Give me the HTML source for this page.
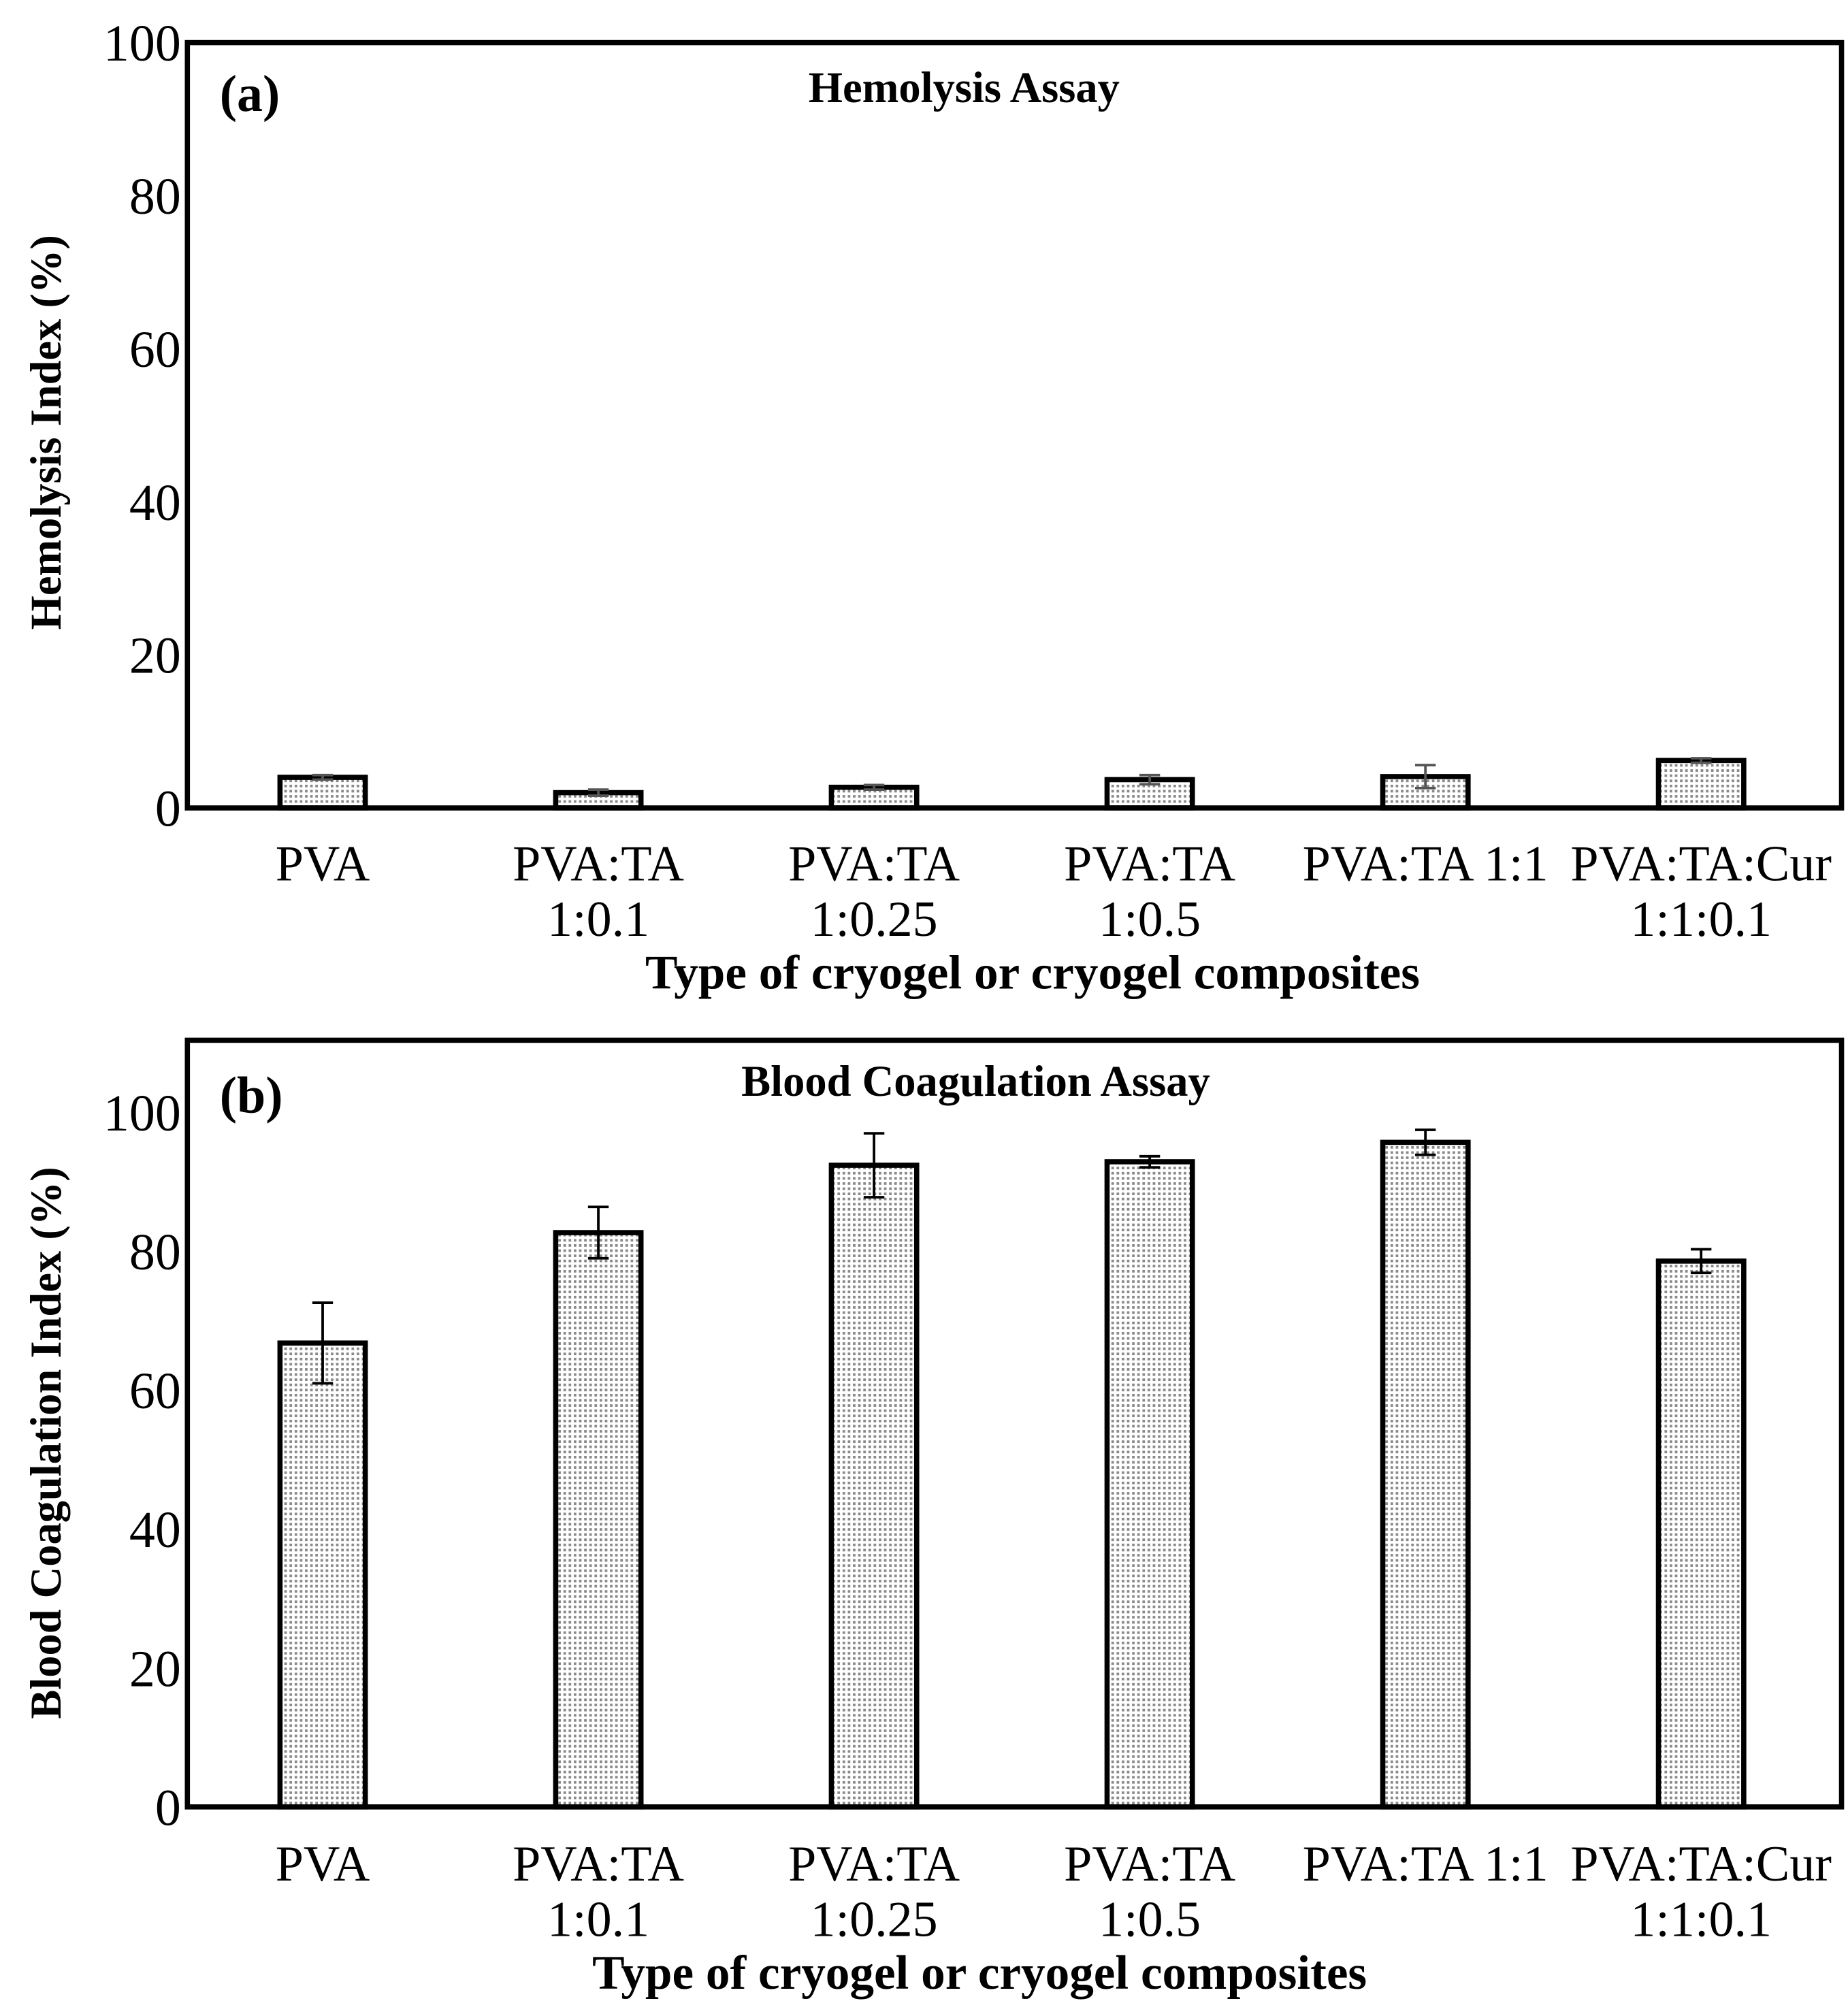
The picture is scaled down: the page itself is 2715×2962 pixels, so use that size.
<!DOCTYPE html>
<html><head><meta charset="utf-8"><style>
html,body{margin:0;padding:0;background:#fff}
svg{display:block}
text{font-family:"Liberation Serif",serif;fill:#000}
</style></head><body>
<svg id="fig" width="2715" height="2962" viewBox="0 0 1430 1562" preserveAspectRatio="none">
<defs>
<pattern id="dots" width="4" height="4" patternUnits="userSpaceOnUse">
<rect width="4" height="4" fill="#fff"/><rect width="2" height="2" fill="#8a8a8a"/>
</pattern>
</defs>
</svg>
<script>
const categories=[["PVA"],["PVA:TA","1:0.1"],["PVA:TA","1:0.25"],["PVA:TA","1:0.5"],["PVA:TA 1:1"],["PVA:TA:Cur","1:1:0.1"]];
const hemoValues=[4.0,2.0,2.7,3.7,4.1,6.2];
const hemoErrors=[0.3,0.4,0.3,0.6,1.5,0.3];
const coagValues=[66.8,82.7,92.4,92.9,95.7,78.6];
const coagErrors=[5.8,3.7,4.6,0.8,1.8,1.7];
const hemoTicks=[0,20,40,60,80,100];
const coagTicks=[0,20,40,60,80,100];

const svg=document.getElementById('fig');
const NS='http://www.w3.org/2000/svg';
function mk(tag,attrs,parent){const e=document.createElementNS(NS,tag);for(const k in attrs)e.setAttribute(k,attrs[k]);(parent||svg).appendChild(e);return e;}

function panel(cfg){
  const g=mk('g',{});
  
  
  const {left,right,top,bottom,ymax}=cfg;
  const y=v=>bottom-(v/ymax)*(bottom-top);
  const bandW=(right-left)/categories.length;
  const x=i=>left-2+bandW*(i+0.5);
  const bw=66;
  cfg.ticks.forEach(t=>{
    const tl=mk('text',{x:140,y:y(t)+14,'text-anchor':'end','font-size':40},g);
    tl.textContent=t;
    
    
  });
  cfg.values.forEach((v,i)=>{
    const b=mk('rect',{x:x(i)-bw/2,y:y(v),width:bw,height:bottom-y(v),fill:'url(#dots)',stroke:'#000','stroke-width':4},g);
    
    
    const e=cfg.errors[i];
    const eg=mk('g',{stroke:cfg.errColor,'stroke-width':2},g);
    
    
    mk('line',{x1:x(i),x2:x(i),y1:y(v+e),y2:y(v-e)},eg);
    mk('line',{x1:x(i)-8,x2:x(i)+8,y1:y(v+e),y2:y(v+e)},eg);
    mk('line',{x1:x(i)-8,x2:x(i)+8,y1:y(v-e),y2:y(v-e)},eg);
  });
  const f=mk('rect',{x:left,y:top,width:right-left,height:bottom-top,fill:'none',stroke:'#000','stroke-width':4},g);
  
  
  categories.forEach((c,i)=>{
    c.forEach((line,j)=>{
      const t=mk('text',{x:x(i),y:cfg.labelY+j*43,'text-anchor':'middle','font-size':39},g);
      t.textContent=line;
      
      
    });
  });
  const xt=mk('text',{x:cfg.xTitleX,y:cfg.xTitleY,'text-anchor':'middle','font-size':37.5,'font-weight':'bold'},g);
  xt.textContent='Type of cryogel or cryogel composites';
  
  
  const yc=cfg.yTitleC;
  const yt=mk('text',{x:47,y:yc,'text-anchor':'middle','font-size':34,'font-weight':'bold',transform:`rotate(-90 47 ${yc})`},g);
  yt.textContent=cfg.yTitle;
  
  
  const pl=mk('text',{x:170,y:cfg.panelLabelY,'font-size':40,'font-weight':'bold'},g);
  pl.textContent=cfg.panelLabel;
  
  
  const ct=mk('text',{x:cfg.chartTitleX,y:cfg.chartTitleY,'text-anchor':'middle','font-size':34,'font-weight':'bold'},g);
  ct.textContent=cfg.chartTitle;
  
  
}
panel({name:'hemolysis-panel',left:145,right:1425,top:33,bottom:626,ymax:100,values:hemoValues,errors:hemoErrors,ticks:hemoTicks,errColor:'#555',
  labelY:682,xTitleX:799,xTitleY:766,yTitle:'Hemolysis Index (%)',yTitleC:335,panelLabel:'(a)',panelLabelY:86,chartTitle:'Hemolysis Assay',chartTitleX:746,chartTitleY:79});
panel({name:'coagulation-panel',left:145,right:1425,top:806,bottom:1400,ymax:110.4,values:coagValues,errors:coagErrors,ticks:coagTicks,errColor:'#000',
  labelY:1457,xTitleX:758,xTitleY:1541,yTitle:'Blood Coagulation Index (%)',yTitleC:1118,panelLabel:'(b)',panelLabelY:862,chartTitle:'Blood Coagulation Assay',chartTitleX:755,chartTitleY:849});
</script>
</body></html>
